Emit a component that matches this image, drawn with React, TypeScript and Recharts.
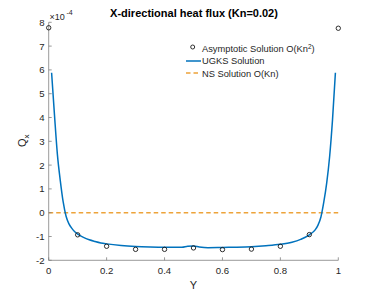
import React from "react";
import { ComposedChart, Line, Scatter, XAxis, YAxis } from "recharts";

// Values in units of 1e-4
const asymX = [0, 0.1, 0.2, 0.3, 0.4, 0.5, 0.6, 0.7, 0.8, 0.9, 1.0];
const asymQ = [7.77, -0.93, -1.41, -1.54, -1.54, -1.48, -1.55, -1.53, -1.41, -0.92, 7.75];

const ugksX = [0.01, 0.02, 0.03, 0.04, 0.05, 0.06, 0.07, 0.08, 0.09, 0.1, 0.12, 0.14, 0.16, 0.18, 0.2, 0.25, 0.3, 0.35, 0.4, 0.44, 0.46, 0.48, 0.5, 0.52, 0.55, 0.6, 0.65, 0.7, 0.75, 0.8, 0.84, 0.87, 0.9, 0.92, 0.93, 0.94, 0.95, 0.96, 0.97, 0.98, 0.99];
const ugksQ = [5.88, 4.1, 2.45, 1.35, 0.45, -0.15, -0.47, -0.66, -0.8, -0.9, -1.04, -1.14, -1.21, -1.27, -1.31, -1.38, -1.42, -1.44, -1.45, -1.45, -1.45, -1.41, -1.40, -1.44, -1.47, -1.46, -1.45, -1.43, -1.39, -1.33, -1.24, -1.12, -0.93, -0.72, -0.52, -0.18, 0.45, 1.25, 2.35, 3.9, 5.88];

const nsX = [0, 1];
const nsQ = [0, 0];

const xTicks = [0, 0.2, 0.4, 0.6, 0.8, 1];
const yTicks = [-2, -1, 0, 1, 2, 3, 4, 5, 6, 7, 8];

const asymData = asymX.map((x, i) => ({ x, q: asymQ[i] }));
const ugksData = ugksX.map((x, i) => ({ x, q: ugksQ[i] }));
const nsData = nsX.map((x, i) => ({ x, q: nsQ[i] }));

const FONT = "'Liberation Sans', Arial, Helvetica, sans-serif";
const BLUE = "#0072BD";
const ORANGE = "#EDA33A";
const AXIS = "#808080";
const TEXT = "#262626";

const CircleShape = (props: any) => (
  <circle cx={props.cx} cy={props.cy} r={2.2} fill="none" stroke="#1a1a1a" strokeWidth={0.9} />
);

export default function App() {
  return (
    <div style={{ position: "absolute", left: 0, top: 0, width: 374, height: 293, background: "#fff" }}>
      <ComposedChart
        width={374}
        height={293}
        margin={{ top: 22.3, right: 35.7, bottom: 2.7, left: 8.7 }}
      >
        <XAxis
          type="number"
          dataKey="x"
          domain={[0, 1]}
          ticks={xTicks}
          height={30}
          stroke={AXIS}
          tickSize={-3}
          tickMargin={10}
          tick={{ fill: TEXT, fontSize: 9.6, fontFamily: FONT }}
          axisLine={{ stroke: AXIS, strokeWidth: 0.8 }}
          tickLine={{ stroke: AXIS, strokeWidth: 0.8 }}
          allowDuplicatedCategory={false}
        />
        <YAxis
          type="number"
          dataKey="q"
          domain={[-2, 8]}
          ticks={yTicks}
          width={40}
          stroke={AXIS}
          tickSize={-3}
          tickMargin={7.2}
          tick={{ fill: TEXT, fontSize: 9.6, fontFamily: FONT }}
          axisLine={{ stroke: AXIS, strokeWidth: 0.8 }}
          tickLine={{ stroke: AXIS, strokeWidth: 0.8 }}
          interval={0}
        />
        <Line
          data={nsData}
          dataKey="q"
          type="linear"
          stroke={ORANGE}
          strokeWidth={1.5}
          strokeDasharray="4.5 3"
          dot={false}
          isAnimationActive={false}
        />
        <Line
          data={ugksData}
          dataKey="q"
          type="monotone"
          stroke={BLUE}
          strokeWidth={1.5}
          dot={false}
          isAnimationActive={false}
        />
        <Scatter
          data={asymData}
          dataKey="q"
          shape={CircleShape}
          isAnimationActive={false}
        />
      </ComposedChart>
      <svg
        width={374}
        height={293}
        style={{ position: "absolute", left: 0, top: 0, pointerEvents: "none" }}
        fontFamily={FONT}
      >
        <text x={194} y={17} textAnchor="middle" fontSize={11} fontWeight="bold" fill="#000">
          X-directional heat flux (Kn=0.02)
        </text>
        <text x={49.5} y={19.5} fontSize={9} fill={TEXT}>
          ×10
        </text>
        <text x={66.5} y={15} fontSize={7} fill={TEXT}>
          -4
        </text>
        <g transform="translate(25.5,147) rotate(-90)">
          <text x={0} y={0} fontSize={11} fill={TEXT}>
            Q
            <tspan dy={3} fontSize={8}>x</tspan>
          </text>
        </g>
        <text x={193.5} y={289} textAnchor="middle" fontSize={11} fill={TEXT}>
          Y
        </text>
        {/* legend */}
        <circle cx={192.7} cy={47} r={2} fill="none" stroke="#1a1a1a" strokeWidth={0.9} />
        <text x={202} y={52} fontSize={9.3} fill={TEXT}>
          Asymptotic Solution O(Kn
          <tspan dy={-3.5} fontSize={6.5}>2</tspan>
          <tspan dy={3.5}>)</tspan>
        </text>
        <line x1={186} x2={201} y1={61} y2={61} stroke={BLUE} strokeWidth={1.5} />
        <text x={202} y={64.3} fontSize={9.3} fill={TEXT}>
          UGKS Solution
        </text>
        <line x1={186} x2={201} y1={73} y2={73} stroke={ORANGE} strokeWidth={1.5} strokeDasharray="4.5 3" />
        <text x={202} y={76.5} fontSize={9.3} fill={TEXT}>
          NS Solution O(Kn)
        </text>
      </svg>
    </div>
  );
}
